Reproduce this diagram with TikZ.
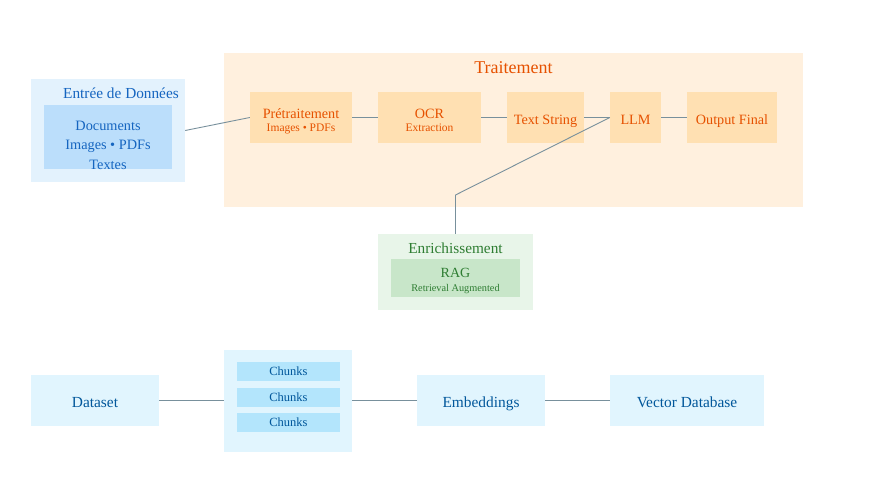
\documentclass[tikz,border=0pt]{standalone}
\usepackage{fontspec}
\setmainfont{Liberation Serif}
\definecolor{inBg}{HTML}{E3F2FD}
\definecolor{inBox}{HTML}{BBDEFB}
\definecolor{inText}{HTML}{1565C0}
\definecolor{trBg}{HTML}{FFF0DE}
\definecolor{trBox}{HTML}{FFE0B2}
\definecolor{trText}{HTML}{E65100}
\definecolor{enBg}{HTML}{E8F5E9}
\definecolor{enBox}{HTML}{C8E6C9}
\definecolor{enText}{HTML}{2E7D32}
\definecolor{dbBg}{HTML}{E1F5FE}
\definecolor{dbBox}{HTML}{B3E5FC}
\definecolor{dbText}{HTML}{01579B}
\definecolor{link}{HTML}{78909C}
\begin{document}
\begin{tikzpicture}[x=1pt,y=-1pt,
  box/.style={inner sep=0pt,minimum width=#1},
  trstep/.style={box=#1,fill=trBox,text=trText,minimum height=51pt,align=center,font=\fontsize{14.2}{14}\selectfont,text height=13pt,text depth=0pt},
  dbstep/.style={box=#1,fill=dbBg,text=dbText,minimum height=51pt,font=\fontsize{15.4}{17}\selectfont,text height=13.5pt,text depth=0pt},
  chunk/.style={box=103pt,fill=dbBox,text=dbText,minimum height=19pt,font=\fontsize{12.5}{14}\selectfont},
  wire/.style={link,line width=0.9pt}]
\useasboundingbox (0,0) rectangle (878,488);
% entree
\node[box=154pt,minimum height=103pt,fill=inBg] (entree) at (108,130.5) {};
\node[text=inText,font=\fontsize{15.3}{17}\selectfont] (entreeTitle) at (121,93) {Entrée de Données};
\node[box=128pt,minimum height=64pt,fill=inBox] (docs) at (108,137) {};
\node[text=inText,align=center,font=\fontsize{14.3}{19.5}\selectfont] (docsText) at (108,145) {Documents\\Images • PDFs\\Textes};
% traitement
\node[box=579pt,minimum height=154pt,fill=trBg] (trait) at (513.5,130) {};
\node[text=trText,font=\fontsize{18}{20}\selectfont] (traitTitle) at (513.5,68) {Traitement};
\node[trstep=102pt,text height=27pt] (pre) at (301,117.5) {Prétraitement\\[-1pt]{\fontsize{11.5}{12}\selectfont Images • PDFs}};
\node[trstep=103pt,text height=27pt] (ocr) at (429.5,117.5) {OCR\\[-1pt]{\fontsize{11.5}{12}\selectfont Extraction}};
\node[trstep=77pt] (txt) at (545.5,117.5) {Text String};
\node[trstep=51pt] (llm) at (635.5,117.5) {LLM};
\node[trstep=90pt] (out) at (732,117.5) {Output Final};
% enrichissement
\node[box=155pt,minimum height=76pt,fill=enBg] (enrich) at (455.5,272) {};
\node[text=enText,font=\fontsize{15.3}{17}\selectfont] (enrichTitle) at (455.5,248) {Enrichissement};
\node[box=129pt,minimum height=38pt,fill=enBox,text=enText,align=center,font=\fontsize{14}{14}\selectfont,text height=27pt,text depth=0pt] (rag) at (455.5,278) {RAG\\[0pt]{\fontsize{10.3}{11}\selectfont Retrieval Augmented}};
% vector database
\node[dbstep=128pt] (dataset) at (95,400.5) {Dataset};
\node[box=128pt,minimum height=102pt,fill=dbBg] (chunks) at (288,400.5) {};
\node[chunk] (chunkA) at (288.5,371.5) {Chunks};
\node[chunk] (chunkB) at (288.5,397.5) {Chunks};
\node[chunk] (chunkC) at (288.5,422.5) {Chunks};
\node[dbstep=128pt] (emb) at (481,400.5) {Embeddings};
\node[dbstep=154pt] (vdb) at (687,400.5) {Vector Database};
\coordinate (bend) at (455.5,195);
\draw[wire] (entree.east) -- (pre.west);
\draw[wire] (pre) -- (ocr);
\draw[wire] (ocr) -- (txt);
\draw[wire] (txt) -- (llm);
\draw[wire] (llm) -- (out);
\draw[wire] (llm.west) -- (bend) -- (enrich.north);
\draw[wire] (dataset) -- (chunks);
\draw[wire] (chunks) -- (emb);
\draw[wire] (emb) -- (vdb);
\end{tikzpicture}
\end{document}
